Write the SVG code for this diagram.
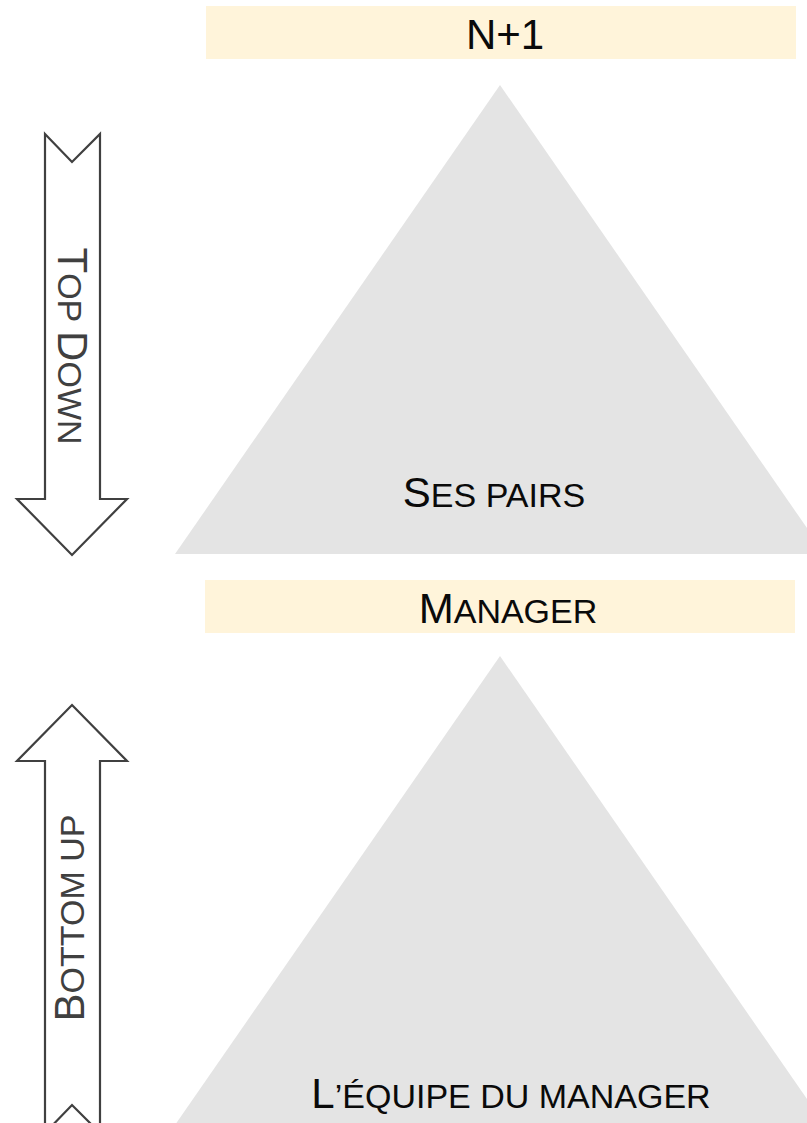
<svg xmlns="http://www.w3.org/2000/svg" width="807" height="1123" viewBox="0 0 807 1123">
<style>
.band{fill:#FFF4DA}
.tri{fill:#E4E4E4}
.arrow{fill:#FFFFFF;stroke:#404040;stroke-width:2.2;stroke-linejoin:miter}
.lbl{font-family:"Liberation Sans",Arial,sans-serif;fill:#0A0A0A;text-anchor:middle}
.albl{font-family:"Liberation Sans",Arial,sans-serif;fill:#404040;text-anchor:middle}
.big{font-size:42px}
.sm{font-size:34px}
</style>
<rect width="807" height="1123" fill="#FFFFFF"/>
<g id="band-n1">
<rect class="band" x="206" y="6" width="590" height="53"/>
<text class="lbl big" x="505" y="49">N+1</text>
</g>
<g id="tri-pairs">
<polygon class="tri" points="500,85 825,554 175,554"/>
<text class="lbl" x="494" y="507"><tspan class="big">S</tspan><tspan class="sm">ES PAIRS</tspan></text>
</g>
<g id="band-manager">
<rect class="band" x="205" y="580" width="590" height="53"/>
<text class="lbl" x="508" y="623"><tspan class="big">M</tspan><tspan class="sm">ANAGER</tspan></text>
</g>
<g id="tri-equipe">
<polygon class="tri" points="500,656 825,1125 175,1125"/>
<text class="lbl" x="511" y="1108"><tspan class="big">L</tspan><tspan class="sm">’ÉQUIPE DU MANAGER</tspan></text>
</g>
<g id="connectors">
<g id="arrow-topdown">
<polygon class="arrow" points="45,134 72,162 100,134 100,499 127,499 72,555 17,499 45,499"/>
<text class="albl" transform="translate(58,346) rotate(90)"><tspan class="big">T</tspan><tspan class="sm">OP </tspan><tspan class="big">D</tspan><tspan class="sm">OWN</tspan></text>
</g>
<g id="arrow-bottomup">
<polygon class="arrow" points="72,705 127,761 100,761 100,1133 72,1105 45,1133 45,761 17,761"/>
<text class="albl" transform="translate(84,918) rotate(-90)"><tspan class="big">B</tspan><tspan class="sm">OTTOM UP</tspan></text>
</g>
</g>
</svg>
